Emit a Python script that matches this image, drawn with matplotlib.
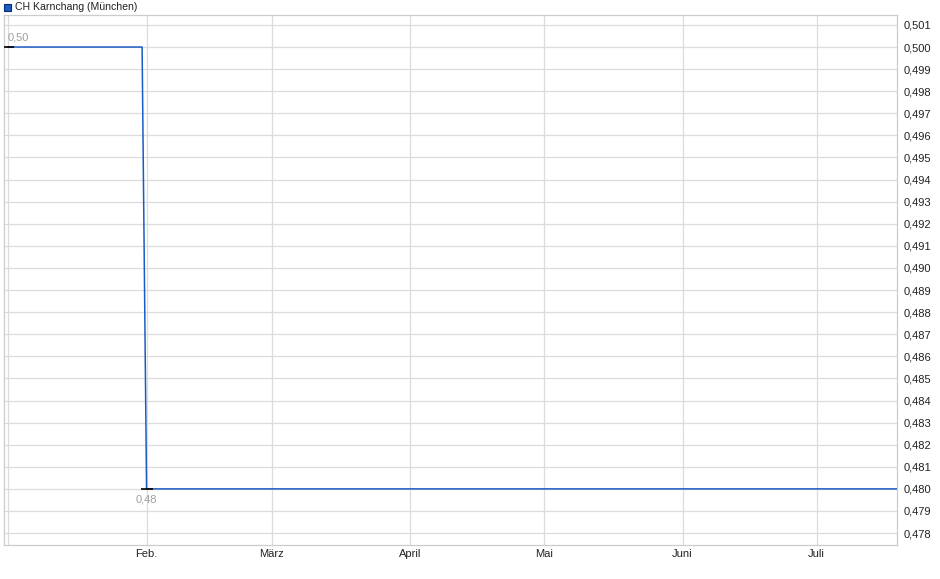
import matplotlib
matplotlib.use("Agg")
from matplotlib import pyplot as plt
import numpy as np
import pandas as pd

plt.rcParams['font.family'] = ['Liberation Sans', 'DejaVu Sans']

# Kursdaten (täglich)
kurs_tage = pd.date_range("2025-01-01", "2025-07-20", freq="D")
kurs_werte = [0.50 if d < pd.Timestamp("2025-02-01") else 0.48 for d in kurs_tage]
titel = "CH Karnchang (München)"
y_ticks = [0.478, 0.479, 0.480, 0.481, 0.482, 0.483, 0.484, 0.485, 0.486, 0.487,
           0.488, 0.489, 0.490, 0.491, 0.492, 0.493, 0.494, 0.495, 0.496, 0.497,
           0.498, 0.499, 0.500, 0.501]
monate = ["2025-02-01", "2025-03-01", "2025-04-01", "2025-05-01", "2025-06-01", "2025-07-01"]
monat_namen = ["Feb.", "März", "April", "Mai", "Juni", "Juli"]

fig = plt.figure(figsize=(9.4, 5.79), dpi=100)
ax = fig.add_axes([4 / 940, 1 - 545 / 579, 893 / 940, 530 / 579])

blau = "#1a5cc4"
ax.plot(kurs_tage, kurs_werte, color=blau, lw=1.1, zorder=3)

# Hoch / Tief Markierungen
hoch_i = int(np.argmax(kurs_werte))
tief_i = int(np.argmin(kurs_werte))
for i, off in [(hoch_i, 7), (tief_i, -8)]:
    ax.plot(kurs_tage[i], kurs_werte[i], marker="_", color="black", ms=8, mew=1.2, zorder=4)
    ax.annotate(f"{kurs_werte[i]:.2f}".replace(".", ","), (kurs_tage[i], kurs_werte[i]),
                xytext=(0, off), textcoords="offset points", ha="left" if i == hoch_i else "center",
                va="center", fontsize=8, color="#a0a0a0")

start = pd.Timestamp("2025-01-01")
ax.set_xlim(start - pd.Timedelta(hours=22), start + pd.Timedelta(days=199))
ax.set_ylim(0.47746, 0.50145)

ax.set_yticks(y_ticks)
ax.set_yticklabels([f"{v:.3f}".replace(".", ",") for v in y_ticks])
ax.yaxis.tick_right()
ax.set_xticks([pd.Timestamp(m) for m in monate])
ax.set_xticklabels(monat_namen)
ax.set_xticks([start], minor=True)
ax.tick_params(axis="both", which="both", length=0, labelsize=8, colors="#222222")
ax.tick_params(axis="x", pad=3)
ax.tick_params(axis="y", pad=5)

ax.grid(True, which="both", color="#dcdcdc", lw=0.9)
ax.set_axisbelow(True)
for s in ax.spines.values():
    s.set_color("#cccccc")
    s.set_linewidth(0.9)

# Legende oben links
fig.patches.append(plt.Rectangle((4 / 940, 1 - 11 / 579), 7 / 940, 7 / 579,
                                 transform=fig.transFigure, facecolor=blau,
                                 edgecolor="#0a2a70", lw=0.8))
fig.text(15 / 940, 1 - 7 / 579, titel, fontsize=7.6, va="center", ha="left", color="#222222")

fig.savefig("out.png", dpi=100)
